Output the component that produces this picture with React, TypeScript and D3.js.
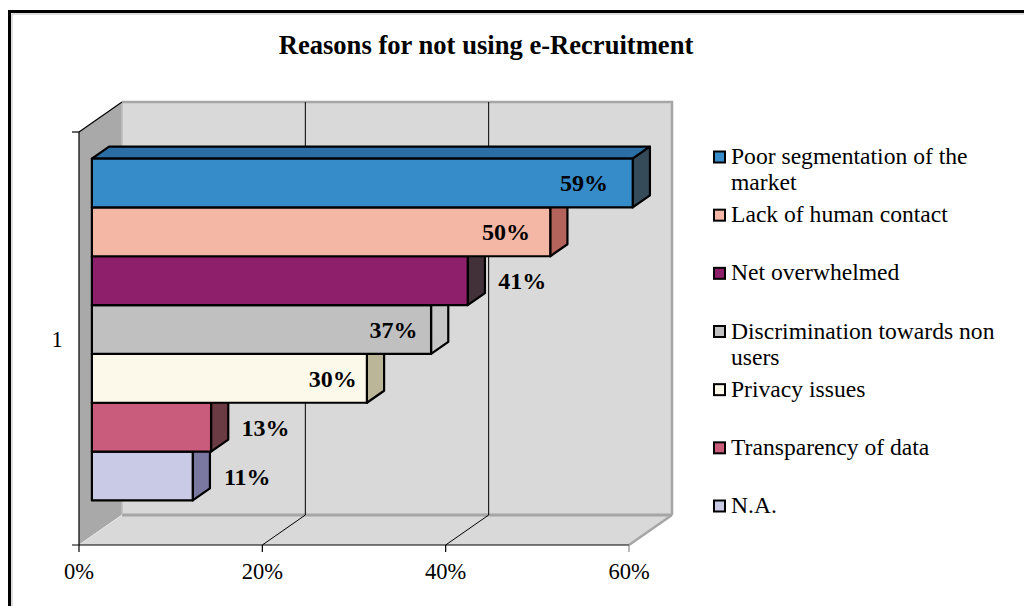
import React, { useMemo } from "react";
import * as d3 from "d3";

const title = "Reasons for not using e-Recruitment";
const categories = ["1"];
const seriesNames = [
  "Poor segmentation of the market",
  "Lack of human contact",
  "Net overwhelmed",
  "Discrimination towards non users",
  "Privacy issues",
  "Transparency of data",
  "N.A.",
];
const seriesValues = [59, 50, 41, 37, 30, 13, 11];
const seriesColors = ["#368bc9", "#f4b7a5", "#8e1f6a", "#c0c0c0", "#fdf9ea", "#c95b7c", "#c9cae6"];
const sideColors = ["#364b59", "#b5645b", "#43313a", "#c6c6c6", "#bcb698", "#6b3b44", "#7a77a0"];
const topColors = ["#2b6ea5", "#c98e80", "#6a1850", "#9a9a9a", "#d8d4c0", "#a04862", "#a0a2c0"];
const labelPlacement = ["inside", "inside", "outside", "inside", "inside", "outside", "outside"];
const xTicks = [0, 20, 40, 60];

const W = 1024;
const H = 606;
const FONT = "'Liberation Serif', 'Times New Roman', serif";

// 3D box layout
const FRONT_LEFT = 79;
const FRONT_RIGHT = 629;
const FRONT_TOP = 132;
const FRONT_BOTTOM = 545;
const DX = 43;
const DY = -30;
const BAR_T0 = 0.3;
const BAR_T1 = 0.7;

const LEGEND_X = 714;
const LEGEND_TEXT_X = 731;
const LEGEND_FONT = 23.6;
const LEGEND_MAXW = 275;
const LEGEND_LINE = 26;

function wrapText(text: string, maxW: number, font: string): string[] {
  let ctx: CanvasRenderingContext2D | null = null;
  try {
    ctx = document.createElement("canvas").getContext("2d");
  } catch (e) {
    ctx = null;
  }
  const measure = (s: string) => {
    if (ctx) {
      ctx.font = font;
      return ctx.measureText(s).width;
    }
    return s.length * 10;
  };
  const words = text.split(" ");
  const lines: string[] = [];
  let cur = "";
  for (const w of words) {
    const t = cur ? cur + " " + w : w;
    if (measure(t) > maxW && cur) {
      lines.push(cur);
      cur = w;
    } else cur = t;
  }
  if (cur) lines.push(cur);
  return lines;
}

export default function App() {
  const x = d3.scaleLinear().domain([0, 60]).range([FRONT_LEFT, FRONT_RIGHT]);
  const proj = (v: number, y: number, t: number): [number, number] => [x(v) + DX * t, y + DY * t];
  const poly = (pts: [number, number][]) => pts.map((p) => p.join(",")).join(" ");

  const cat = d3
    .scaleBand<string>()
    .domain(categories)
    .range([FRONT_TOP, FRONT_BOTTOM])
    .paddingInner(0)
    .paddingOuter(0.104);
  const ser = d3
    .scaleBand<string>()
    .domain(seriesNames)
    .range([cat(categories[0])!, cat(categories[0])! + cat.bandwidth()]);

  const legendY = d3
    .scalePoint<string>()
    .domain(seriesNames)
    .range([164, 513]);

  const legendLines = useMemo(
    () => seriesNames.map((n) => wrapText(n, LEGEND_MAXW, `${LEGEND_FONT}px 'Liberation Serif'`)),
    []
  );

  const backTop = proj(0, FRONT_TOP, 1)[1];
  const backBottom = proj(0, FRONT_BOTTOM, 1)[1];

  const barOrder = d3.range(seriesNames.length).reverse();

  return (
    <svg
      width={W}
      height={H}
      style={{ position: "absolute", left: 0, top: 0, display: "block", background: "#fff" }}
      fontFamily={FONT}
    >
      <rect x={0} y={0} width={W} height={H} fill="#fff" />
      {/* chart border */}
      <rect x={9.5} y={11.5} width={W + 20} height={H + 20} fill="none" stroke="#000" strokeWidth={3} />
      <rect x={12} y={14} width={W + 20} height={H + 20} fill="none" stroke="#bbb" strokeWidth={1} />

      {/* title */}
      <text x={486} y={54} textAnchor="middle" fontSize={26.6} fontWeight="bold">
        {title}
      </text>

      {/* back wall */}
      <polygon
        points={poly([proj(0, FRONT_TOP, 1), proj(60, FRONT_TOP, 1), proj(60, FRONT_BOTTOM, 1), proj(0, FRONT_BOTTOM, 1)])}
        fill="#d9d9d9"
      />
      {/* left wall */}
      <polygon
        points={poly([proj(0, FRONT_TOP, 0), proj(0, FRONT_TOP, 1), proj(0, FRONT_BOTTOM, 1), proj(0, FRONT_BOTTOM, 0)])}
        fill="#a9a9a9"
      />
      {/* floor */}
      <polygon
        points={poly([proj(0, FRONT_BOTTOM, 0), proj(60, FRONT_BOTTOM, 0), proj(60, FRONT_BOTTOM, 1), proj(0, FRONT_BOTTOM, 1)])}
        fill="#d9d9d9"
      />
      {/* wall edges */}
      <polyline
        points={poly([proj(0, FRONT_TOP, 1), proj(60, FRONT_TOP, 1), proj(60, FRONT_BOTTOM, 1)])}
        fill="none"
        stroke="#a6a6a6"
        strokeWidth={2.5}
      />
      <line
        x1={proj(0, FRONT_BOTTOM, 1)[0]}
        y1={backBottom}
        x2={proj(60, FRONT_BOTTOM, 1)[0]}
        y2={backBottom}
        stroke="#a6a6a6"
        strokeWidth={3}
      />
      <line
        x1={proj(0, FRONT_TOP, 1)[0]}
        y1={backTop}
        x2={proj(0, FRONT_BOTTOM, 1)[0]}
        y2={backBottom}
        stroke="#bdbdbd"
        strokeWidth={1.5}
      />
      <line
        x1={proj(60, FRONT_BOTTOM, 0)[0]}
        y1={FRONT_BOTTOM}
        x2={proj(60, FRONT_BOTTOM, 1)[0]}
        y2={backBottom}
        stroke="#a6a6a6"
        strokeWidth={2.5}
      />
      <line
        x1={proj(0, FRONT_BOTTOM, 0)[0]}
        y1={FRONT_BOTTOM}
        x2={proj(0, FRONT_BOTTOM, 1)[0]}
        y2={backBottom}
        stroke="#e6e6e6"
        strokeWidth={1}
      />

      {/* gridlines */}
      {xTicks
        .filter((t) => t > 0 && t < 60)
        .map((t) => (
          <g key={"g" + t} stroke="#000" strokeWidth={1}>
            <line x1={proj(t, FRONT_TOP, 1)[0]} y1={backTop} x2={proj(t, FRONT_BOTTOM, 1)[0]} y2={backBottom} />
            <line x1={proj(t, FRONT_BOTTOM, 0)[0]} y1={FRONT_BOTTOM} x2={proj(t, FRONT_BOTTOM, 1)[0]} y2={backBottom} />
          </g>
        ))}

      {/* axes */}
      <g stroke="#000" strokeWidth={1.2}>
        <line x1={x(0) - 7} y1={FRONT_BOTTOM} x2={x(60)} y2={FRONT_BOTTOM} />
        <line x1={x(0)} y1={FRONT_TOP} x2={x(0)} y2={FRONT_BOTTOM} />
        <line x1={x(0) - 7} y1={FRONT_TOP} x2={x(0)} y2={FRONT_TOP} />
        <line x1={proj(0, FRONT_TOP, 0)[0]} y1={FRONT_TOP} x2={proj(0, FRONT_TOP, 1)[0]} y2={backTop} />
        {xTicks.map((t) => (
          <line key={"t" + t} x1={x(t)} y1={FRONT_BOTTOM} x2={x(t)} y2={FRONT_BOTTOM + 7} stroke={t === 60 ? "#888" : "#000"} />
        ))}
      </g>
      {xTicks.map((t) => (
        <text key={"tl" + t} x={x(t)} y={579} textAnchor="middle" fontSize={22.5}>
          {t + "%"}
        </text>
      ))}
      {categories.map((c) => (
        <text key={c} x={57} y={cat(c)! + cat.bandwidth() / 2 + 8} textAnchor="middle" fontSize={22.5}>
          {c}
        </text>
      ))}

      {/* bars */}
      {barOrder.map((i) => {
        const v = seriesValues[i];
        const y0 = ser(seriesNames[i])!;
        const y1 = y0 + ser.bandwidth();
        const front: [number, number][] = [proj(0, y0, BAR_T0), proj(v, y0, BAR_T0), proj(v, y1, BAR_T0), proj(0, y1, BAR_T0)];
        const side: [number, number][] = [proj(v, y0, BAR_T0), proj(v, y0, BAR_T1), proj(v, y1, BAR_T1), proj(v, y1, BAR_T0)];
        const top: [number, number][] = [proj(0, y0, BAR_T0), proj(v, y0, BAR_T0), proj(v, y0, BAR_T1), proj(0, y0, BAR_T1)];
        return (
          <g key={"b" + i} stroke="#000" strokeWidth={2.2} strokeLinejoin="round">
            <polygon points={poly(top)} fill={topColors[i]} />
            <polygon points={poly(side)} fill={sideColors[i]} />
            <polygon points={poly(front)} fill={seriesColors[i]} />
          </g>
        );
      })}

      {/* data labels */}
      {seriesNames.map((n, i) => {
        const v = seriesValues[i];
        const y0 = ser(n)!;
        const [xs] = proj(0, y0, BAR_T0);
        const [xe] = proj(v, y0, BAR_T0);
        const cy = y0 + ser.bandwidth() / 2 + DY * BAR_T0;
        const cx = labelPlacement[i] === "inside" ? xs + (xe - xs) * 0.945 - 19 : xe + 54.5;
        return (
          <text key={"l" + i} x={cx} y={cy + 8.5} textAnchor="middle" fontSize={24} fontWeight="bold">
            {v + "%"}
          </text>
        );
      })}

      {/* legend */}
      {seriesNames.map((n, i) => {
        const by = legendY(n)!;
        return (
          <g key={"lg" + i}>
            <rect x={LEGEND_X} y={by - 12.5} width={11} height={11} fill={seriesColors[i]} stroke="#000" strokeWidth={2} />
            <text x={LEGEND_TEXT_X} y={by} fontSize={LEGEND_FONT}>
              {legendLines[i].map((ln, k) => (
                <tspan key={k} x={LEGEND_TEXT_X} y={by + k * LEGEND_LINE}>
                  {ln}
                </tspan>
              ))}
            </text>
          </g>
        );
      })}
    </svg>
  );
}
